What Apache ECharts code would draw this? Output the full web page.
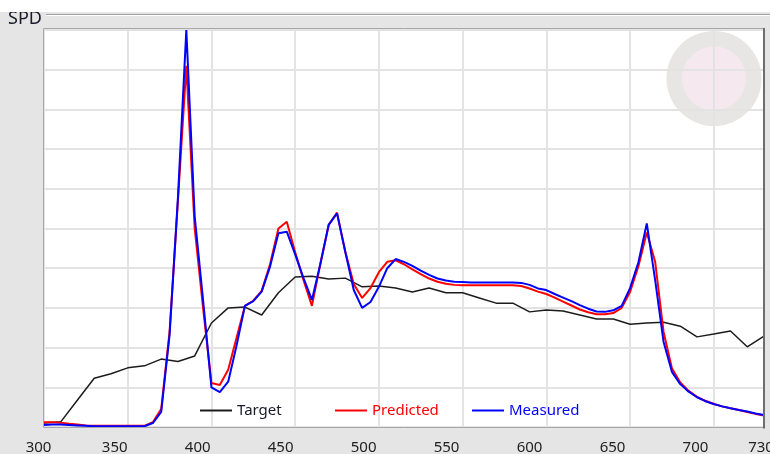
<!DOCTYPE html>
<html>
<head>
<meta charset="utf-8">
<script src="https://cdn.jsdelivr.net/npm/echarts@6/dist/echarts.min.js"></script>
<style>
  html, body { margin: 0; padding: 0; background: #e5e5e5; }
  #chart { width: 770px; height: 454px; }
</style>
</head>
<body>
<div id="chart"></div>
<script>
// Target spectrum, sampled every 10 nm
const targetNm = [300, 310, 320, 330, 340, 350, 360, 370, 380, 390,
                  400, 410, 420, 430, 440, 450, 460, 470, 480, 490,
                  500, 510, 520, 530, 540, 550, 560, 570, 580, 590,
                  600, 610, 620, 630, 640, 650, 660, 670, 680, 690,
                  700, 710, 720, 730];
const targetSpd = [0.010, 0.013, 0.068, 0.123, 0.134, 0.149, 0.154, 0.171, 0.165, 0.179,
                   0.262, 0.300, 0.302, 0.282, 0.338, 0.378, 0.380, 0.373, 0.375, 0.353,
                   0.355, 0.350, 0.340, 0.350, 0.338, 0.338, 0.325, 0.312, 0.312, 0.290,
                   0.295, 0.292, 0.282, 0.272, 0.272, 0.259, 0.262, 0.264, 0.254, 0.227,
                   0.234, 0.242, 0.202, 0.229];

// Predicted and measured spectra, sampled every 5 nm
const spectrumNm = [300, 305, 310, 315, 320, 325, 330, 335, 340, 345,
                    350, 355, 360, 365, 370, 375, 380, 385, 390, 395,
                    400, 405, 410, 415, 420, 425, 430, 435, 440, 445,
                    450, 455, 460, 465, 470, 475, 480, 485, 490, 495,
                    500, 505, 510, 515, 520, 525, 530, 535, 540, 545,
                    550, 555, 560, 565, 570, 575, 580, 585, 590, 595,
                    600, 605, 610, 615, 620, 625, 630, 635, 640, 645,
                    650, 655, 660, 665, 670, 675, 680, 685, 690, 695,
                    700, 705, 710, 715, 720, 725, 730];
const predictedSpd = [0.012, 0.012, 0.011, 0.008, 0.006, 0.004, 0.003, 0.003, 0.003, 0.003,
                      0.003, 0.003, 0.003, 0.012, 0.045, 0.240, 0.570, 0.910, 0.500, 0.300,
                      0.111, 0.106, 0.144, 0.225, 0.305, 0.318, 0.343, 0.410, 0.500, 0.517,
                      0.440, 0.370, 0.305, 0.410, 0.509, 0.540, 0.440, 0.360, 0.325, 0.350,
                      0.390, 0.416, 0.420, 0.410, 0.397, 0.385, 0.374, 0.366, 0.361, 0.358,
                      0.357, 0.357, 0.357, 0.357, 0.357, 0.357, 0.357, 0.355, 0.349, 0.341,
                      0.335, 0.326, 0.316, 0.306, 0.296, 0.289, 0.284, 0.284, 0.287, 0.300,
                      0.340, 0.405, 0.490, 0.416, 0.240, 0.148, 0.112, 0.091, 0.076, 0.066,
                      0.058, 0.052, 0.047, 0.043, 0.038, 0.033, 0.029];
const measuredSpd = [0.005, 0.006, 0.006, 0.005, 0.004, 0.003, 0.002, 0.002, 0.002, 0.002,
                     0.002, 0.002, 0.002, 0.010, 0.038, 0.232, 0.579, 1.000, 0.530, 0.320,
                     0.100, 0.088, 0.114, 0.205, 0.305, 0.317, 0.341, 0.404, 0.488, 0.492,
                     0.435, 0.375, 0.320, 0.410, 0.509, 0.538, 0.440, 0.345, 0.300, 0.315,
                     0.353, 0.400, 0.423, 0.416, 0.406, 0.394, 0.383, 0.374, 0.369, 0.366,
                     0.365, 0.364, 0.364, 0.364, 0.364, 0.364, 0.364, 0.363, 0.358, 0.349,
                     0.345, 0.335, 0.326, 0.317, 0.307, 0.298, 0.291, 0.290, 0.294, 0.305,
                     0.350, 0.415, 0.513, 0.370, 0.215, 0.139, 0.108, 0.089, 0.075, 0.065,
                     0.058, 0.052, 0.047, 0.043, 0.039, 0.034, 0.030];

// Axis tick labels (nm)
const xTickLabels = [300, 350, 400, 450, 500, 550, 600, 650, 700, 730];
const seriesNames = ['Target', 'Predicted', 'Measured'];

const FONT = '"Noto Sans", "Open Sans", sans-serif';
const zip = (xs, ys) => xs.map((x, i) => [x, ys[i]]);

// The tick captions sit a little to the left of their grid lines
function labelShift(v) {
  if (v === xTickLabels[0]) return 5.5;
  if (v === xTickLabels[xTickLabels.length - 1]) return 3;
  return 13 + (v - 350) / 350 * 5.3;
}
const labelRich = {};
xTickLabels.forEach(v => {
  labelRich['t' + v] = {
    fontSize: 15, fontFamily: FONT, color: '#222',
    padding: [0, 2 * labelShift(v), 0, 0]
  };
});

const gridLine = { show: true, lineStyle: { color: '#e3e3e3', width: 2 } };

const chart = echarts.init(document.getElementById('chart'), null, { renderer: 'canvas' });
chart.setOption({
  animation: false,
  backgroundColor: '#e5e5e5',
  grid: { left: 44, top: 30, right: 6, bottom: 27, containLabel: false, outerBoundsMode: 'none' },
  graphic: [
    // plot background
    { type: 'rect', z: -20, silent: true,
      shape: { x: 43, y: 28, width: 721, height: 400 }, style: { fill: '#ffffff' } },
    // badge in the upper right corner
    { type: 'circle', z: -19, silent: true,
      shape: { cx: 714, cy: 78.5, r: 47.5 }, style: { fill: '#e8e6e4' } },
    { type: 'circle', z: -18, silent: true,
      shape: { cx: 714, cy: 78.5, r: 32 }, style: { fill: '#f5e9ef' } },
    // plot frame
    { type: 'rect', z: 5, silent: true,
      shape: { x: 43.5, y: 28.5, width: 720, height: 399 },
      style: { fill: 'none', stroke: '#a8a8a8', lineWidth: 1 } },
    { type: 'line', z: 6, silent: true,
      shape: { x1: 764, y1: 28, x2: 764, y2: 428.5 },
      style: { stroke: '#6e6e6e', lineWidth: 2 } },
    // group caption
    { type: 'text', z: 7, silent: true, left: 8, top: 9.5,
      style: { text: 'SPD', fontSize: 18, fontFamily: FONT, fill: '#1a1a2a' } },
    { type: 'line', z: 7, silent: true,
      shape: { x1: 46, y1: 14.5, x2: 770, y2: 14.5 },
      style: { stroke: '#a0a0a0', lineWidth: 1 } },
    { type: 'line', z: 7, silent: true,
      shape: { x1: 46, y1: 15.5, x2: 770, y2: 15.5 },
      style: { stroke: '#ffffff', lineWidth: 1 } },
    { type: 'rect', z: 8, silent: true,
      shape: { x: 0, y: 0, width: 770, height: 12 }, style: { fill: '#ffffff' } }
  ],
  legend: seriesNames.map((name, i) => ({
    data: [name],
    left: [195, 330, 467][i],
    top: 398,
    icon: 'rect',
    itemWidth: 32,
    itemHeight: 2,
    itemGap: 0,
    selectedMode: false,
    textStyle: { fontSize: 15, fontFamily: FONT, color: ['#1a1a2a', '#ff0000', '#0000ff'][i] }
  })),
  xAxis: {
    type: 'value', min: 300, max: 730, interval: 50,
    axisLine: { show: false }, axisTick: { show: false },
    splitLine: gridLine,
    axisLabel: {
      show: true, margin: 13, showMinLabel: true, showMaxLabel: true,
      formatter: v => '{t' + v + '|' + v + '}',
      rich: labelRich
    }
  },
  yAxis: {
    type: 'value', min: 0, max: 1, interval: 0.1,
    axisLine: { show: false }, axisTick: { show: false },
    axisLabel: { show: false },
    splitLine: gridLine
  },
  series: [
    { name: seriesNames[0], type: 'line', data: zip(targetNm, targetSpd),
      showSymbol: false, symbol: 'none', color: '#1c1c1c',
      lineStyle: { width: 1.5, color: '#1c1c1c' }, z: 2 },
    { name: seriesNames[1], type: 'line', data: zip(spectrumNm, predictedSpd),
      showSymbol: false, symbol: 'none', color: '#ff0000',
      lineStyle: { width: 2, color: '#ff0000' }, z: 3 },
    { name: seriesNames[2], type: 'line', data: zip(spectrumNm, measuredSpd),
      showSymbol: false, symbol: 'none', color: '#0000ff', clip: false,
      lineStyle: { width: 2, color: '#0000ff' }, z: 4 }
  ]
});
</script>
</body>
</html>
